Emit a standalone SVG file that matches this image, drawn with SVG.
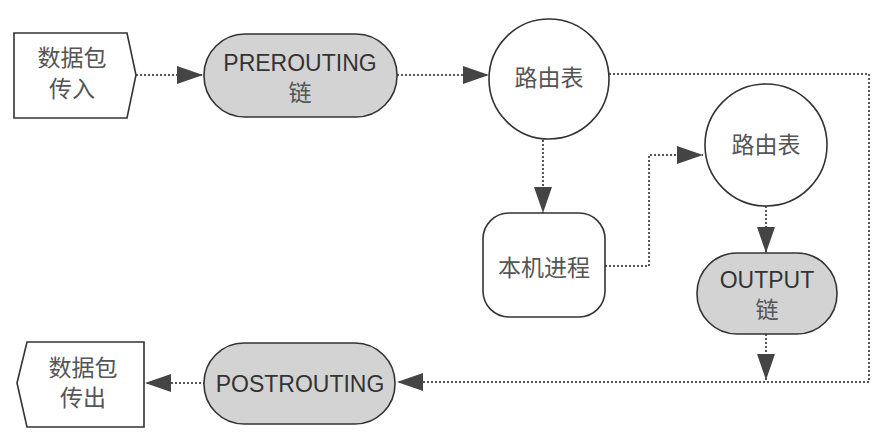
<svg xmlns="http://www.w3.org/2000/svg" width="890" height="435" viewBox="0 0 890 435">
<defs>
<style>
.box{fill:#fff;stroke:#333;stroke-width:1.6}
.chain{fill:#d3d3d3;stroke:#333;stroke-width:1.6}
.cn{font-family:"Liberation Sans","Noto Sans CJK SC",sans-serif;font-size:23px;fill:#555;text-anchor:middle;dominant-baseline:central}
.en{font-family:"Liberation Sans","Noto Sans CJK SC",sans-serif;font-size:23px;fill:#333;text-anchor:middle;dominant-baseline:central}
.con{fill:none;stroke:#555;stroke-width:2;stroke-dasharray:2 2}
</style>
<marker id="arr" markerUnits="userSpaceOnUse" markerWidth="26" markerHeight="18" refX="26" refY="9" orient="auto">
<path d="M0,0 L26,9 L0,18 Z" fill="#444"/>
</marker>
</defs>
<rect width="890" height="435" fill="#fff"/>
<g id="connectors">
<path class="con" d="M136,75 L203,75" marker-end="url(#arr)"/>
<path class="con" d="M397,75 L489,75" marker-end="url(#arr)"/>
<path class="con" d="M543,140 L543,213" marker-end="url(#arr)"/>
<path class="con" d="M605,266 L649,266 L649,155 L703,155" marker-end="url(#arr)"/>
<path class="con" d="M766,206 L766,253" marker-end="url(#arr)"/>
<path class="con" d="M766,334 L766,380" marker-end="url(#arr)"/>
<path class="con" d="M609,74 L869,74 L869,382 L397,382" marker-end="url(#arr)"/>
<path class="con" d="M205,383 L145,383" marker-end="url(#arr)"/>
</g>
<g id="in">
<path class="box" d="M14,33 L127,33 L136,75 L127,118 L14,118 Z"/>
<text class="cn" x="72" y="58">数据包</text>
<text class="cn" x="72" y="89">传入</text>
</g>
<g id="prerouting">
<rect class="chain" x="204" y="34" width="193" height="83" rx="41" ry="41"/>
<text class="en" x="300" y="63">PREROUTING</text>
<text class="cn" x="300" y="93">链</text>
</g>
<g id="route1">
<circle class="box" cx="549" cy="79" r="60"/>
<text class="cn" x="549" y="78">路由表</text>
</g>
<g id="local">
<rect class="box" x="483" y="213" width="122" height="104" rx="26" ry="26"/>
<text class="cn" x="544" y="268">本机进程</text>
</g>
<g id="route2">
<circle class="box" cx="766" cy="145" r="61"/>
<text class="cn" x="766" y="145">路由表</text>
</g>
<g id="output">
<rect class="chain" x="697" y="253" width="140" height="81" rx="40" ry="40"/>
<text class="en" x="767" y="280">OUTPUT</text>
<text class="cn" x="767" y="310">链</text>
</g>
<g id="postrouting">
<rect class="chain" x="204" y="343" width="191" height="81" rx="40" ry="40"/>
<text class="en" x="300" y="384">POSTROUTING</text>
</g>
<g id="out">
<path class="box" d="M27,342 L144,342 L144,427 L27,427 L17,383 Z"/>
<text class="cn" x="83" y="368">数据包</text>
<text class="cn" x="83" y="398">传出</text>
</g>
</svg>
